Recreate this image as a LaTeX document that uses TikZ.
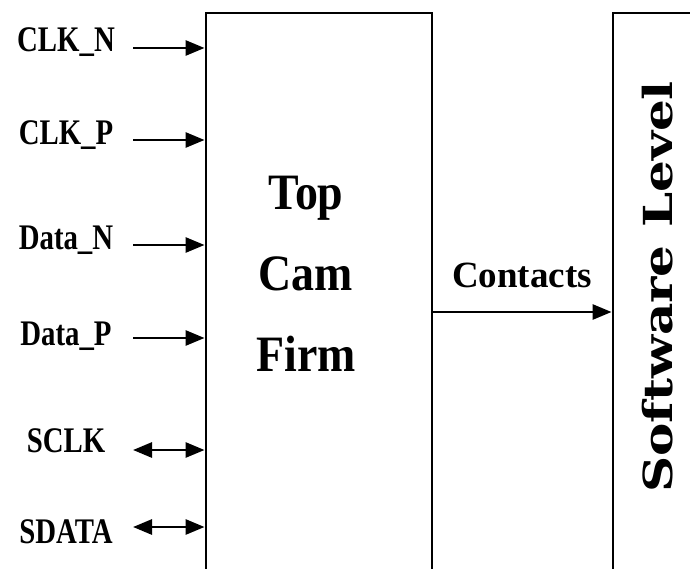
\documentclass[tikz,border=0pt]{standalone}
\usepackage{fontspec}
\setmainfont{Liberation Serif}
\newfontfamily\sigfont{Liberation Serif}[FakeStretch=0.8]
\newfontfamily\firmfont{Liberation Serif}[FakeStretch=0.9]
\newfontfamily\softfont{DejaVu Serif}[FakeStretch=1.25]
\usetikzlibrary{arrows.meta, positioning}

\begin{document}
\begin{tikzpicture}[x=1pt, y=-1pt,
		>={Triangle[length=19pt, width=15pt]},   %Pfeilspitzen
		blockbox/.style={draw, line width=2.9pt, inner sep=0pt, minimum height=600pt},
		siglabel/.style={font=\sigfont\bfseries\fontsize{36}{40}\selectfont, anchor=base, inner sep=0pt},
		sigline/.style={line width=2.8pt}]
		%Bildbereich
		\useasboundingbox (0,0) rectangle (690,569);
		\clip (0,0) rectangle (690,569);
		% Bloecke (unten offen)
		\node[blockbox, minimum width=226pt] (firm) at (319,313) {};
		\node[blockbox, minimum width=187pt] (soft) at (706.5,313) {};
		\node[font=\firmfont\bfseries\fontsize{51}{81}\selectfont, align=center, inner sep=0pt] (firmtxt) at (306,274) {Top\\Cam\\Firm};
		\node[font=\softfont\bfseries\fontsize{40}{44}\selectfont, rotate=90, anchor=base, inner sep=0pt] (softtxt) at (672,287) {Software Level};
		% Eingaenge
		\foreach \nm/\txt/\ya/\yb in {clkn/CLK\_N/48/52, clkp/CLK\_P/140/145, datn/Data\_N/245/250, datp/Data\_P/338/345}{
			\node[siglabel] (\nm) at (66,\yb) {\txt};
			\coordinate (\nm-in) at (133,\ya);
			\draw[sigline, ->] (\nm-in) -- (\nm-in -| firm.west);
		}
		% bidirektional
		\foreach \nm/\txt/\ya/\yb in {sclk/SCLK/450/452, sdata/SDATA/527/543}{
			\node[siglabel] (\nm) at (66,\yb) {\txt};
			\coordinate (\nm-in) at (133,\ya);
			\draw[sigline, <->] (\nm-in) -- (\nm-in -| firm.west);
		}
		% Ausgang
		\node[font=\bfseries\fontsize{37}{40}\selectfont, anchor=base, inner sep=0pt] (contacts) at (522,287) {Contacts};
		\coordinate (cont-out) at (432,312);
		\draw[sigline, ->] (cont-out -| firm.east) -- (cont-out -| soft.west);
\end{tikzpicture}
\end{document}
